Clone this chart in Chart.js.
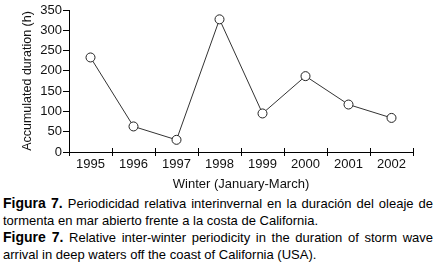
<!DOCTYPE html>
<html>
<head>
<meta charset="utf-8">
<script src="https://cdn.jsdelivr.net/npm/chart.js@4/dist/chart.umd.min.js"></script>
<style>
  html, body { margin: 0; padding: 0; background: #fff; }
  body { width: 437px; height: 271px; position: relative; overflow: hidden; }
  #wrap { position: absolute; left: 0; top: 0; width: 437px; height: 192px; }
  #caption {
    position: absolute; left: 3px; top: 195px; width: 430px;
    font-family: "Liberation Sans", Arial, sans-serif;
    font-size: 13px; line-height: 16.5px; color: #000; text-align: justify;
  }
  #caption p { margin: 0; }
  #caption b { font-size: 14px; font-weight: bold; line-height: 16px; }
</style>
</head>
<body>
<div id="wrap"><canvas id="c" width="437" height="192"></canvas></div>
<div id="caption">
  <p><b>Figura 7.</b> Periodicidad relativa interinvernal en la duración del oleaje de tormenta en mar abierto frente a la costa de California.</p>
  <p><b>Figure 7.</b> Relative inter-winter periodicity in the duration of storm wave arrival in deep waters off the coast of California (USA).</p>
</div>
<script>
const years = ["1995", "1996", "1997", "1998", "1999", "2000", "2001", "2002"];
const duration = [233, 63, 30, 327, 95, 187, 117, 84];
const yTicks = [0, 50, 100, 150, 200, 250, 300, 350];
const xTitle = "Winter (January-March)";
const yTitle = "Accumulated duration (h)";

const FONT = '"Liberation Sans", Arial, sans-serif';

// draws the upward part of the category divider ticks on the x axis
const upTicks = {
  id: 'upTicks',
  afterDraw(chart) {
    const x = chart.scales.x, ctx = chart.ctx;
    const y0 = x.top;
    ctx.save();
    ctx.strokeStyle = '#000';
    ctx.lineWidth = 1;
    const n = x.ticks.length;
    for (let i = 1; i <= n; i++) {
      const px = Math.round(x.getPixelForValue(i - 0.5)) + 0.5;
      ctx.beginPath();
      ctx.moveTo(px, y0 - 4);
      ctx.lineTo(px, y0);
      ctx.stroke();
    }
    ctx.restore();
  }
};

new Chart(document.getElementById('c'), {
  type: 'line',
  data: {
    labels: years,
    datasets: [{
      data: duration,
      borderColor: '#333',
      borderWidth: 1,
      pointRadius: 4.5,
      pointBackgroundColor: '#fff',
      pointBorderColor: '#222',
      pointBorderWidth: 1,
      tension: 0
    }]
  },
  options: {
    responsive: false,
    animation: false,
    layout: { padding: { top: 10, right: 24, left: 18, bottom: 0 } },
    plugins: { legend: { display: false }, tooltip: { enabled: false } },
    scales: {
      x: {
        type: 'category',
        offset: true,
        grid: { display: true, drawOnChartArea: false, drawTicks: true, tickLength: 4, color: '#000', offset: true },
        border: { display: true, color: '#000', width: 1 },
        ticks: { color: '#111', font: { family: FONT, size: 13 }, padding: 1, maxRotation: 0 },
        title: { display: true, text: xTitle, color: '#111', font: { family: FONT, size: 13 }, padding: { top: 1, bottom: 0 } },
        afterFit(s) { s.height = 40; }
      },
      y: {
        min: 0, max: 350,
        afterBuildTicks(s) { s.ticks = yTicks.map(v => ({ value: v })); },
        grid: { display: true, drawOnChartArea: false, drawTicks: true, tickLength: 6, color: '#000' },
        border: { display: true, color: '#000', width: 1 },
        ticks: { color: '#111', font: { family: FONT, size: 13 }, padding: 1 },
        title: { display: true, text: yTitle, color: '#111', font: { family: FONT, size: 12.5 }, padding: { top: 2, bottom: 0 } },
        afterFit(s) { s.width = 51; }
      }
    }
  },
  plugins: [upTicks]
});
</script>
</body>
</html>
